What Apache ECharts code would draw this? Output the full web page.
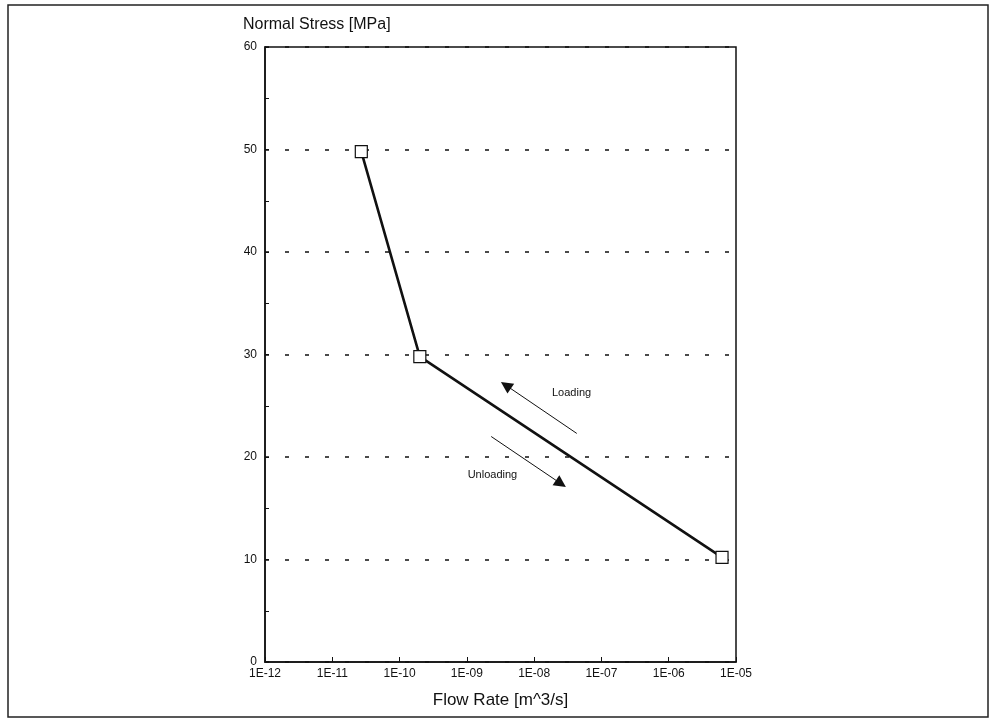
<!DOCTYPE html>
<html>
<head>
<meta charset="utf-8">
<script src="https://cdn.jsdelivr.net/npm/echarts@6/dist/echarts.min.js"></script>
<style>
  html, body { margin:0; padding:0; background:#fff; }
  #main { width:992px; height:724px; }
</style>
</head>
<body>
<div id="main"></div>
<script>
// data
var flowRate = [2.7e-11, 2.0e-10, 6.2e-6];
var stress = [49.8, 29.8, 10.2];
var yTicks = [0, 10, 20, 30, 40, 50, 60];

// annotation arrows (data coords: flow rate, stress)
var loadingArrow = [[4.3e-8, 22.3], [3.8e-9, 27.0]];
var unloadingArrow = [[2.3e-9, 22.0], [2.5e-8, 17.4]];
var loadingLabel = [3.6e-8, 26.2];
var unloadingLabel = [2.4e-9, 18.2];

var font = 'Liberation Sans, Arial, sans-serif';
var chart = echarts.init(document.getElementById('main'));

var option = {
  backgroundColor: '#fff',
  animation: false,
  textStyle: { fontFamily: font },
  graphic: [{
    type: 'rect',
    shape: { x: 8, y: 5, width: 980, height: 712 },
    style: { fill: 'none', stroke: '#222', lineWidth: 1.5 }
  }],
  grid: {
    left: 265, right: 256, top: 47, bottom: 62,
    show: true, borderColor: '#111', borderWidth: 1.5
  },
  xAxis: {
    type: 'log',
    logBase: 10,
    min: 1e-12,
    max: 1e-5,
    name: 'Flow Rate [m^3/s]',
    nameLocation: 'middle',
    nameGap: 30,
    nameTextStyle: { fontSize: 17, color: '#111', fontFamily: font },
    axisLine: { lineStyle: { color: '#111', width: 1.5 } },
    axisTick: { inside: true, length: 5, lineStyle: { color: '#111' } },
    minorTick: { show: false },
    splitLine: { show: false },
    axisLabel: {
      color: '#111', fontSize: 12, margin: 6, fontFamily: font,
      formatter: function (v) {
        var e = Math.round(Math.log10(v));
        return '1E' + (e < 0 ? '-' : '+') + String(Math.abs(e)).padStart(2, '0');
      }
    }
  },
  yAxis: {
    type: 'value',
    min: 0,
    max: 60,
    interval: 10,
    name: 'Normal Stress [MPa]',
    nameLocation: 'end',
    nameGap: 14,
    nameTextStyle: { fontSize: 16, color: '#111', align: 'left', padding: [0, 0, 0, -22], fontFamily: font },
    axisLine: { show: true, lineStyle: { color: '#111', width: 1.5 } },
    axisTick: { inside: true, length: 4, lineStyle: { color: '#111' } },
    minorTick: { show: true, splitNumber: 2, length: 4, lineStyle: { color: '#111' } },
    splitLine: { show: true, lineStyle: { color: '#111', type: [4, 16], width: 1.5 } },
    axisLabel: {
      color: '#111', fontSize: 12, margin: 8, fontFamily: font,
      formatter: function (v) { return yTicks.indexOf(v) >= 0 ? String(v) : ''; }
    }
  },
  series: [{
    type: 'line',
    data: flowRate.map(function (x, i) { return [x, stress[i]]; }),
    symbol: 'rect',
    symbolSize: 12,
    itemStyle: { color: '#fff', borderColor: '#111', borderWidth: 1.2 },
    lineStyle: { color: '#111', width: 2.6 },
    z: 3,
    markLine: {
      silent: true,
      symbol: ['none', 'triangle'],
      symbolSize: 12,
      label: { show: false },
      lineStyle: { color: '#111', width: 1, type: 'solid' },
      itemStyle: { color: '#111' },
      data: [
        [{ coord: loadingArrow[0] }, { coord: loadingArrow[1] }],
        [{ coord: unloadingArrow[0] }, { coord: unloadingArrow[1] }]
      ]
    },
    markPoint: {
      silent: true,
      symbol: 'circle',
      symbolSize: 0,
      label: { show: true, color: '#111', fontSize: 11, fontFamily: font, formatter: '{b}' },
      data: [
        { name: 'Loading', coord: loadingLabel },
        { name: 'Unloading', coord: unloadingLabel }
      ]
    }
  }]
};

chart.setOption(option);
</script>
</body>
</html>
